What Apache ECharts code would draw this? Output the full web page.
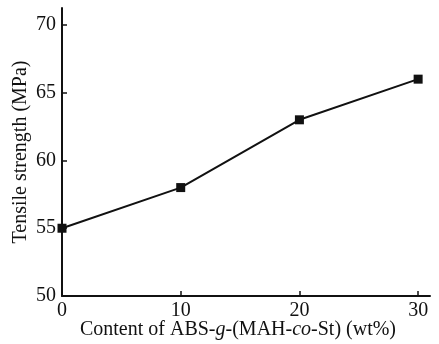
<!DOCTYPE html>
<html><head><meta charset="utf-8">
<script src="https://cdn.jsdelivr.net/npm/echarts@6/dist/echarts.min.js"></script>
<style>html,body{margin:0;padding:0;background:#fff}#c{width:439px;height:344px}</style>
</head><body><div id="c"></div>
<script>
var xValues = [0, 10, 20, 30];
var yValues = [55, 58, 63, 66];
var xTicks = [0, 10, 20, 30];
var yTicks = [50, 55, 60, 65, 70];

var font = '"Liberation Serif", "Times New Roman", serif';
var chart = echarts.init(document.getElementById('c'), null, {renderer: 'canvas'});
chart.setOption({
  backgroundColor: '#fff',
  animation: false,
  grid: {left: 62, right: 9, top: 8, bottom: 48, containLabel: false, outerBoundsMode: 'none'},
  xAxis: {
    type: 'value', min: 0, max: 31,
    name: '{n|Content of ABS-}{i|g}{n|-(MAH-}{i|co}{n|-St) (wt%)}',
    nameLocation: 'middle', nameGap: 24, nameMoveOverlap: false,
    nameTextStyle: {
      padding: [0, 16, 0, 0],
      rich: {
        n: {fontFamily: font, fontSize: 20, color: '#111'},
        i: {fontFamily: font, fontSize: 20, fontStyle: 'italic', color: '#111'}
      }
    },
    axisLine: {lineStyle: {color: '#111', width: 2}},
    axisTick: {inside: true, length: 5, customValues: xTicks, lineStyle: {color: '#111', width: 1.5}},
    axisLabel: {customValues: xTicks, margin: 5, fontFamily: font, fontSize: 20, color: '#111'},
    splitLine: {show: false}
  },
  yAxis: {
    type: 'value', min: 50, max: 71.25,
    name: 'Tensile strength (MPa)',
    nameLocation: 'middle', nameGap: 31, nameMoveOverlap: false,
    nameTextStyle: {fontFamily: font, fontSize: 20, color: '#111'},
    axisLine: {show: true, lineStyle: {color: '#111', width: 2}},
    axisTick: {show: true, inside: true, length: 5, customValues: yTicks, lineStyle: {color: '#111', width: 1.5}},
    axisLabel: {customValues: yTicks, margin: 6, fontFamily: font, fontSize: 20, color: '#111'},
    splitLine: {show: false}
  },
  series: [{
    type: 'line',
    data: xValues.map(function (x, i) { return [x, yValues[i]]; }),
    symbol: 'rect', symbolSize: 9,
    lineStyle: {color: '#111', width: 2},
    itemStyle: {color: '#111'},
    clip: false
  }]
});
</script></body></html>
